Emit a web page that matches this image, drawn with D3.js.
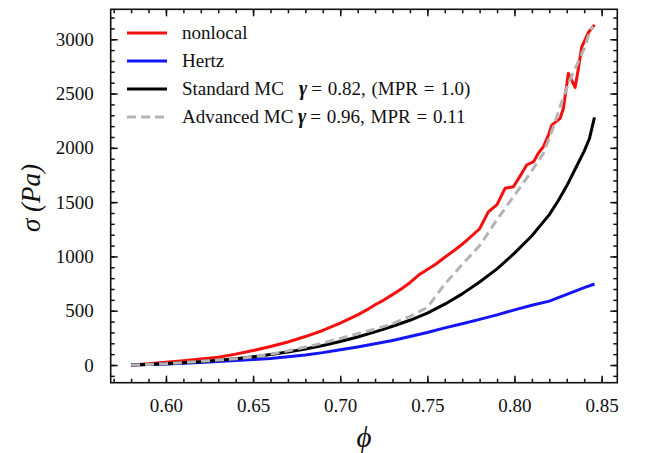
<!DOCTYPE html>
<html>
<head>
<meta charset="utf-8">
<script src="https://cdn.jsdelivr.net/npm/d3@7"></script>
</head>
<body style="margin:0;background:#fff">
<svg id="chart" width="645" height="453"></svg>
<script>
// ---- data: volume fraction phi vs stress sigma (Pa) ----
const nonlocalPhi = [0.58, 0.59, 0.60, 0.61, 0.62, 0.63, 0.64, 0.65, 0.66, 0.67, 0.68, 0.69, 0.70, 0.71, 0.715, 0.72, 0.725, 0.73, 0.735, 0.74, 0.745, 0.75, 0.755, 0.76, 0.765, 0.77, 0.775, 0.78, 0.785, 0.79, 0.7946, 0.7994, 0.8042, 0.807, 0.811, 0.8137, 0.8166, 0.8195, 0.8214, 0.8262, 0.8281, 0.8309, 0.8348, 0.8367, 0.8386, 0.8424, 0.8459];
const nonlocalSigma = [0, 12, 25, 40, 55, 72, 100, 133, 170, 212, 262, 318, 385, 462, 505, 555, 598, 648, 700, 758, 828, 880, 930, 992, 1050, 1112, 1182, 1255, 1410, 1478, 1627, 1642, 1765, 1842, 1873, 1950, 2011, 2118, 2210, 2272, 2364, 2686, 2557, 2732, 2931, 3062, 3133];

const hertzPhi = [0.58, 0.59, 0.60, 0.61, 0.62, 0.63, 0.64, 0.65, 0.66, 0.67, 0.68, 0.69, 0.70, 0.71, 0.72, 0.73, 0.74, 0.75, 0.76, 0.77, 0.78, 0.79, 0.80, 0.81, 0.82, 0.83, 0.84, 0.8459];
const hertzSigma = [0, 4, 9, 16, 24, 32, 41, 50, 60, 75, 92, 114, 140, 166, 195, 226, 262, 300, 342, 380, 420, 462, 508, 550, 588, 650, 712, 746];

const standardPhi = [0.58, 0.59, 0.60, 0.61, 0.62, 0.63, 0.64, 0.65, 0.66, 0.67, 0.68, 0.69, 0.70, 0.71, 0.72, 0.73, 0.74, 0.75, 0.76, 0.77, 0.78, 0.79, 0.80, 0.81, 0.82, 0.825, 0.83, 0.835, 0.84, 0.843, 0.8459];
const standardSigma = [0, 5, 12, 20, 31, 43, 57, 75, 96, 120, 148, 180, 216, 258, 305, 357, 412, 478, 560, 655, 765, 885, 1030, 1190, 1385, 1510, 1650, 1810, 1970, 2085, 2281];

const advancedPhi = [0.58, 0.59, 0.60, 0.61, 0.62, 0.63, 0.64, 0.65, 0.66, 0.67, 0.68, 0.69, 0.70, 0.71, 0.72, 0.73, 0.74, 0.75, 0.76, 0.7688, 0.7803, 0.7898, 0.7994, 0.809, 0.8166, 0.8224, 0.8262, 0.8309, 0.8358, 0.8405, 0.8434, 0.8453];
const advancedSigma = [0, 5, 12, 22, 34, 45, 58, 75, 100, 130, 165, 202, 245, 288, 330, 380, 448, 530, 745, 905, 1105, 1335, 1550, 1765, 1950, 2195, 2380, 2594, 2763, 2932, 3085, 3116];

const xTicks = [0.60, 0.65, 0.70, 0.75, 0.80, 0.85];
const yTicks = [0, 500, 1000, 1500, 2000, 2500, 3000];

const legendLabels = ["nonlocal", "Hertz", "Standard MC", "Advanced MC"];
const legendNotes = ["", "", "= 0.82, (MPR = 1.0)", "= 0.96, MPR = 0.11"];

// ---- layout ----
const SERIF = "'Liberation Serif'";
const svg = d3.select("#chart");
const plot = { left: 110.7, right: 617.3, top: 9.3, bottom: 382.7 };

const x = d3.scaleLinear().domain([0.5683, 0.859]).range([plot.left, plot.right]);
const y = d3.scaleLinear().domain([-163, 3276]).range([plot.bottom, plot.top]);

const xMinor = d3.range(57, 86).map(v => v / 100);
const yMinor = d3.range(-100, 3300, 100);

function styleAxis(g) {
  g.select(".domain").remove();
  g.selectAll("line").attr("stroke", "#111").attr("stroke-width", 1.5);
  g.selectAll("text")
    .style("font-family", SERIF).style("font-size", "19px").attr("fill", "#111");
}

// bottom
svg.append("g").attr("transform", `translate(0,${plot.bottom})`)
  .call(d3.axisBottom(x).tickValues(xMinor).tickSize(-4).tickFormat(""))
  .call(styleAxis);
svg.append("g").attr("transform", `translate(0,${plot.bottom})`)
  .call(d3.axisBottom(x).tickValues(xTicks).tickSize(-7).tickPadding(16).tickFormat(d3.format(".2f")))
  .call(styleAxis);
// top
svg.append("g").attr("transform", `translate(0,${plot.top})`)
  .call(d3.axisTop(x).tickValues(xMinor).tickSize(-4).tickFormat(""))
  .call(styleAxis);
svg.append("g").attr("transform", `translate(0,${plot.top})`)
  .call(d3.axisTop(x).tickValues(xTicks).tickSize(-7).tickFormat(""))
  .call(styleAxis);
// left
svg.append("g").attr("transform", `translate(${plot.left},0)`)
  .call(d3.axisLeft(y).tickValues(yMinor).tickSize(-4).tickFormat(""))
  .call(styleAxis);
svg.append("g").attr("transform", `translate(${plot.left},0)`)
  .call(d3.axisLeft(y).tickValues(yTicks).tickSize(-7).tickPadding(17).tickFormat(d3.format("d")))
  .call(styleAxis);
// right
svg.append("g").attr("transform", `translate(${plot.right},0)`)
  .call(d3.axisRight(y).tickValues(yMinor).tickSize(-4).tickFormat(""))
  .call(styleAxis);
svg.append("g").attr("transform", `translate(${plot.right},0)`)
  .call(d3.axisRight(y).tickValues(yTicks).tickSize(-7).tickFormat(""))
  .call(styleAxis);

// frame
svg.append("rect")
  .attr("x", plot.left).attr("y", plot.top)
  .attr("width", plot.right - plot.left).attr("height", plot.bottom - plot.top)
  .attr("fill", "none").attr("stroke", "#111").attr("stroke-width", 1.6);

// ---- curves ----
const line = d3.line().x(d => x(d[0])).y(d => y(d[1]));
const series = [
  { phi: nonlocalPhi, sigma: nonlocalSigma, color: "#f50f0f", dash: null },
  { phi: hertzPhi, sigma: hertzSigma, color: "#1414f5", dash: null },
  { phi: standardPhi, sigma: standardSigma, color: "#000000", dash: null },
  { phi: advancedPhi, sigma: advancedSigma, color: "#b4b4b4", dash: "9,5" }
];
series.forEach(s => {
  svg.append("path")
    .datum(s.phi.map((p, i) => [p, s.sigma[i]]))
    .attr("d", line)
    .attr("fill", "none")
    .attr("stroke", s.color)
    .attr("stroke-width", 3)
    .attr("stroke-linejoin", "round")
    .attr("stroke-dasharray", s.dash);
});

// ---- legend ----
const legend = svg.append("g");
const rowY = [33, 61, 89, 117];
series.forEach((s, i) => {
  legend.append("line")
    .attr("x1", 127).attr("x2", 167)
    .attr("y1", rowY[i]).attr("y2", rowY[i])
    .attr("stroke", s.color).attr("stroke-width", 3)
    .attr("stroke-dasharray", s.dash);
  const t = legend.append("text")
    .attr("x", 182).attr("y", rowY[i] + 6)
    .attr("fill", "#111")
    .style("font-family", SERIF)
    .style("font-size", "19px");
  t.append("tspan").text(legendLabels[i]);
  if (legendNotes[i]) {
    t.append("tspan").attr("x", i === 2 ? 299 : 298)
      .style("font-style", "italic").style("font-weight", "bold").style("font-size", "20px").text("γ");
    t.append("tspan").attr("dx", 4).style("word-spacing", "1px").text(legendNotes[i]);
  }
});

// ---- axis titles ----
svg.append("text")
  .attr("transform", "translate(40,198) rotate(-90)")
  .attr("text-anchor", "middle")
  .attr("fill", "#111")
  .style("font-family", SERIF)
  .style("font-size", "27px")
  .style("font-style", "italic")
  .text("σ (Pa)");

svg.append("text")
  .attr("x", 364).attr("y", 447)
  .attr("text-anchor", "middle")
  .attr("fill", "#111")
  .style("font-family", SERIF)
  .style("font-size", "29px")
  .style("font-style", "italic")
  .text("ϕ");
</script>
</body>
</html>
